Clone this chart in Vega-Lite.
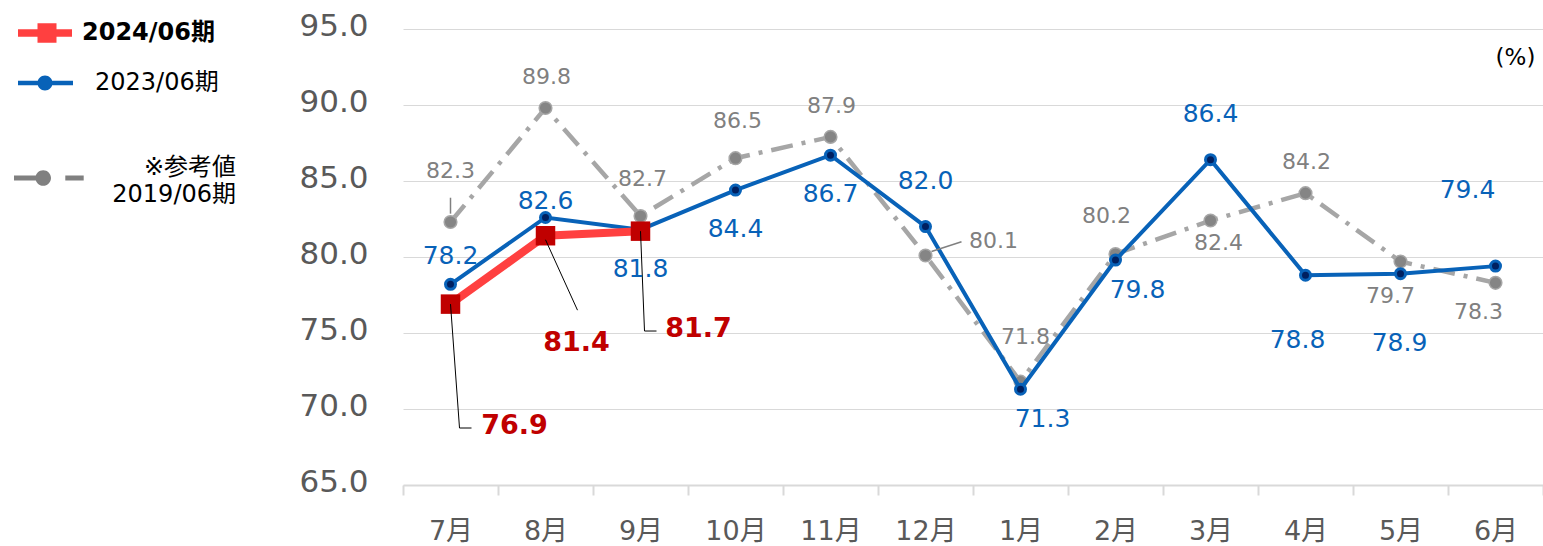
{
  "$schema": "https://vega.github.io/schema/vega-lite/v6.json",
  "width": 1140,
  "height": 456,
  "autosize": {"type": "none"},
  "padding": {"left": 403, "top": 29, "right": 0, "bottom": 61},
  "background": "white",
  "config": {"view": {"stroke": null}, "font": "DejaVu Sans, Noto Sans CJK JP"},
  "data": {"values": [
    {"month": "7月", "series": "2019/06期", "value": 82.3},
    {"month": "8月", "series": "2019/06期", "value": 89.8},
    {"month": "9月", "series": "2019/06期", "value": 82.7},
    {"month": "10月", "series": "2019/06期", "value": 86.5},
    {"month": "11月", "series": "2019/06期", "value": 87.9},
    {"month": "12月", "series": "2019/06期", "value": 80.1},
    {"month": "1月", "series": "2019/06期", "value": 71.8},
    {"month": "2月", "series": "2019/06期", "value": 80.2},
    {"month": "3月", "series": "2019/06期", "value": 82.4},
    {"month": "4月", "series": "2019/06期", "value": 84.2},
    {"month": "5月", "series": "2019/06期", "value": 79.7},
    {"month": "6月", "series": "2019/06期", "value": 78.3},
    {"month": "7月", "series": "2023/06期", "value": 78.2},
    {"month": "8月", "series": "2023/06期", "value": 82.6},
    {"month": "9月", "series": "2023/06期", "value": 81.8},
    {"month": "10月", "series": "2023/06期", "value": 84.4},
    {"month": "11月", "series": "2023/06期", "value": 86.7},
    {"month": "12月", "series": "2023/06期", "value": 82.0},
    {"month": "1月", "series": "2023/06期", "value": 71.3},
    {"month": "2月", "series": "2023/06期", "value": 79.8},
    {"month": "3月", "series": "2023/06期", "value": 86.4},
    {"month": "4月", "series": "2023/06期", "value": 78.8},
    {"month": "5月", "series": "2023/06期", "value": 78.9},
    {"month": "6月", "series": "2023/06期", "value": 79.4},
    {"month": "7月", "series": "2024/06期", "value": 76.9},
    {"month": "8月", "series": "2024/06期", "value": 81.4},
    {"month": "9月", "series": "2024/06期", "value": 81.7}
  ]},
  "encoding": {
    "x": {"field": "month", "type": "ordinal",
      "scale": {"type": "band", "domain": ["7月","8月","9月","10月","11月","12月","1月","2月","3月","4月","5月","6月"], "paddingInner": 0, "paddingOuter": 0},
      "axis": {"title": null, "labelAngle": 0, "labelFontSize": 27, "labelColor": "#595959", "labelPadding": 23, "tickBand": "extent", "tickSize": 10, "tickColor": "#d9d9d9", "tickWidth": 2, "domainColor": "#d9d9d9", "domainWidth": 2, "grid": false}},
    "y": {"field": "value", "type": "quantitative",
      "scale": {"domain": [65, 95], "nice": false, "zero": false},
      "axis": {"title": null, "values": [65, 70, 75, 80, 85, 90, 95], "format": ".1f", "labelFontSize": 31, "labelColor": "#595959", "labelPadding": 35, "ticks": false, "tickSize": 0, "domain": false, "gridColor": "#d9d9d9", "gridWidth": 1, "labelOffset": -3}}
  },
  "layer": [
    {"transform": [{"filter": {"field": "series", "equal": "2019/06期"}}],
     "mark": {"type": "line", "strokeWidth": 4.5, "strokeDash": [22, 9, 4, 9]},
     "encoding": {"stroke": {"datum": "2019/06期", "type": "nominal",
        "scale": {"domain": ["2024/06期", "2023/06期", "2019/06期"], "range": ["#ff4040", "#0862b8", "#a6a6a6"]},
        "legend": {"title": null, "orient": "none", "legendX": -370, "legendY": -8, "direction": "vertical", "padding": 0, "rowPadding": 26,
          "symbolSize": 400, "symbolStrokeWidth": 0, "labelFontSize": 24, "labelColor": "#000000", "labelOffset": 25, "labelLimit": 0,
          "labelExpr": "datum.value === '2019/06期' ? ['※参考値', '2019/06期'] : datum.label",
          "encode": {
            "symbols": {"update": {
              "shape": {"signal": "datum.value === '2024/06期' ? 'M-2.7,-0.37H2.7V0.37H-2.7ZM-0.75,-0.97H1.15V0.97H-0.75Z' : datum.value === '2023/06期' ? 'M-2.7,-0.23H2.8V0.23H-2.7ZM-0.75,0A0.75,0.75,0,1,1,0.75,0A0.75,0.75,0,1,1,-0.75,0Z' : 'M-3.1,4.25H-0.2V4.75H-3.1ZM-0.96,4.5A0.78,0.78,0,1,1,0.6,4.5A0.78,0.78,0,1,1,-0.96,4.5ZM2.03,4.25H3.87V4.75H2.03Z'"},
              "fill": {"signal": "datum.value === '2024/06期' ? '#ff4040' : datum.value === '2023/06期' ? '#0862b8' : '#808080'"},
              "stroke": {"value": "transparent"},
              "strokeWidth": {"value": 0},
              "opacity": {"value": 1}
            }},
            "labels": {"update": {
              "fontWeight": {"signal": "datum.value === '2024/06期' ? 'bold' : 'normal'"},
              "align": {"signal": "datum.value === '2019/06期' ? 'right' : 'left'"},
              "dx": {"signal": "datum.value === '2019/06期' ? 154 : datum.value === '2023/06期' ? 13 : 0"},
              "dy": {"signal": "datum.value === '2019/06期' ? 35 : 0"},
              "lineHeight": {"value": 27}
            }}
          }}}}},
    {"transform": [{"filter": {"field": "series", "equal": "2019/06期"}}],
     "mark": {"type": "point", "shape": "circle", "filled": true, "size": 160, "fill": "#858585", "stroke": "#a6a6a6", "strokeWidth": 1.5, "opacity": 1}},
    {"transform": [{"filter": {"field": "series", "equal": "2023/06期"}}],
     "mark": {"type": "line", "strokeWidth": 4},
     "encoding": {"stroke": {"datum": "2023/06期", "type": "nominal"}}},
    {"transform": [{"filter": {"field": "series", "equal": "2023/06期"}}],
     "mark": {"type": "point", "shape": "circle", "filled": true, "size": 100, "fill": "#002060", "stroke": "#0862b8", "strokeWidth": 3, "opacity": 1}},
    {"transform": [{"filter": {"field": "series", "equal": "2024/06期"}}],
     "mark": {"type": "line", "strokeWidth": 8},
     "encoding": {"stroke": {"datum": "2024/06期", "type": "nominal"}}},
    {"transform": [{"filter": {"field": "series", "equal": "2024/06期"}}],
     "mark": {"type": "point", "shape": "square", "filled": true, "size": 380, "fill": "#c00000", "strokeWidth": 0, "opacity": 1}},

    {"transform": [{"filter": {"and": [{"field": "series", "equal": "2024/06期"}, {"field": "month", "equal": "7月"}]}}],
     "mark": {"type": "rule", "color": "#000000", "strokeWidth": 1, "x2Offset": 9},
     "encoding": {"x2": {"field": "month"}, "y2": {"datum": 68.75}}},
    {"transform": [{"filter": {"and": [{"field": "series", "equal": "2024/06期"}, {"field": "month", "equal": "7月"}]}}],
     "mark": {"type": "rule", "color": "#000000", "strokeWidth": 1, "xOffset": 9, "x2Offset": 21},
     "encoding": {"x2": {"field": "month"}, "y": {"datum": 68.75}}},
    {"transform": [{"filter": {"and": [{"field": "series", "equal": "2024/06期"}, {"field": "month", "equal": "8月"}]}}],
     "mark": {"type": "rule", "color": "#000000", "strokeWidth": 1, "yOffset": 4, "x2Offset": 32},
     "encoding": {"x2": {"field": "month"}, "y2": {"datum": 76.5}}},
    {"transform": [{"filter": {"and": [{"field": "series", "equal": "2024/06期"}, {"field": "month", "equal": "9月"}]}}],
     "mark": {"type": "rule", "color": "#000000", "strokeWidth": 1, "x2Offset": 4},
     "encoding": {"x2": {"field": "month"}, "y2": {"datum": 75.13}}},
    {"transform": [{"filter": {"and": [{"field": "series", "equal": "2024/06期"}, {"field": "month", "equal": "9月"}]}}],
     "mark": {"type": "rule", "color": "#000000", "strokeWidth": 1, "xOffset": 4, "x2Offset": 16},
     "encoding": {"x2": {"field": "month"}, "y": {"datum": 75.13}}},
    {"transform": [{"filter": {"and": [{"field": "series", "equal": "2019/06期"}, {"field": "month", "equal": "7月"}]}}],
     "mark": {"type": "rule", "color": "#808080", "strokeWidth": 1.5},
     "encoding": {"y": {"datum": 83.9}, "y2": {"datum": 82.85}}},
    {"transform": [{"filter": {"and": [{"field": "series", "equal": "2019/06期"}, {"field": "month", "equal": "12月"}]}}],
     "mark": {"type": "rule", "color": "#808080", "strokeWidth": 1.5, "xOffset": 6, "yOffset": -4, "x2Offset": 36},
     "encoding": {"x2": {"field": "month"}, "y2": {"datum": 81.0}}},

    {"transform": [{"filter": {"and": [{"field": "series", "equal": "2023/06期"}, {"field": "month", "oneOf": ["7月"]}]}}],
     "mark": {"type": "text", "fontSize": 25, "color": "#0862b8", "align": "center", "baseline": "middle", "dy": -28},
     "encoding": {"text": {"field": "value", "type": "quantitative", "format": ".1f"}}},
    {"transform": [{"filter": {"and": [{"field": "series", "equal": "2023/06期"}, {"field": "month", "oneOf": ["8月"]}]}}],
     "mark": {"type": "text", "fontSize": 25, "color": "#0862b8", "align": "center", "baseline": "middle", "dy": -16},
     "encoding": {"text": {"field": "value", "type": "quantitative", "format": ".1f"}}},
    {"transform": [{"filter": {"and": [{"field": "series", "equal": "2023/06期"}, {"field": "month", "oneOf": ["9月", "10月", "11月"]}]}}],
     "mark": {"type": "text", "fontSize": 25, "color": "#0862b8", "align": "center", "baseline": "middle", "dy": 39},
     "encoding": {"text": {"field": "value", "type": "quantitative", "format": ".1f"}}},
    {"transform": [{"filter": {"and": [{"field": "series", "equal": "2023/06期"}, {"field": "month", "oneOf": ["12月", "3月"]}]}}],
     "mark": {"type": "text", "fontSize": 25, "color": "#0862b8", "align": "center", "baseline": "middle", "dy": -46},
     "encoding": {"text": {"field": "value", "type": "quantitative", "format": ".1f"}}},
    {"transform": [{"filter": {"and": [{"field": "series", "equal": "2023/06期"}, {"field": "month", "oneOf": ["1月", "2月"]}]}}],
     "mark": {"type": "text", "fontSize": 25, "color": "#0862b8", "align": "center", "baseline": "middle", "dx": 22, "dy": 30},
     "encoding": {"text": {"field": "value", "type": "quantitative", "format": ".1f"}}},
    {"transform": [{"filter": {"and": [{"field": "series", "equal": "2023/06期"}, {"field": "month", "oneOf": ["4月"]}]}}],
     "mark": {"type": "text", "fontSize": 25, "color": "#0862b8", "align": "center", "baseline": "middle", "dx": -8, "dy": 65},
     "encoding": {"text": {"field": "value", "type": "quantitative", "format": ".1f"}}},
    {"transform": [{"filter": {"and": [{"field": "series", "equal": "2023/06期"}, {"field": "month", "oneOf": ["5月"]}]}}],
     "mark": {"type": "text", "fontSize": 25, "color": "#0862b8", "align": "center", "baseline": "middle", "dx": -1, "dy": 69},
     "encoding": {"text": {"field": "value", "type": "quantitative", "format": ".1f"}}},
    {"transform": [{"filter": {"and": [{"field": "series", "equal": "2023/06期"}, {"field": "month", "oneOf": ["6月"]}]}}],
     "mark": {"type": "text", "fontSize": 25, "color": "#0862b8", "align": "center", "baseline": "middle", "dx": -28, "dy": -76},
     "encoding": {"text": {"field": "value", "type": "quantitative", "format": ".1f"}}},

    {"transform": [{"filter": {"and": [{"field": "series", "equal": "2019/06期"}, {"field": "month", "oneOf": ["7月"]}]}}],
     "mark": {"type": "text", "fontSize": 22, "color": "#808080", "align": "center", "baseline": "middle", "dy": -51},
     "encoding": {"text": {"field": "value", "type": "quantitative", "format": ".1f"}}},
    {"transform": [{"filter": {"and": [{"field": "series", "equal": "2019/06期"}, {"field": "month", "oneOf": ["8月", "11月", "4月"]}]}}],
     "mark": {"type": "text", "fontSize": 22, "color": "#808080", "align": "center", "baseline": "middle", "dx": 1, "dy": -31},
     "encoding": {"text": {"field": "value", "type": "quantitative", "format": ".1f"}}},
    {"transform": [{"filter": {"and": [{"field": "series", "equal": "2019/06期"}, {"field": "month", "oneOf": ["9月", "10月"]}]}}],
     "mark": {"type": "text", "fontSize": 22, "color": "#808080", "align": "center", "baseline": "middle", "dx": 2, "dy": -37},
     "encoding": {"text": {"field": "value", "type": "quantitative", "format": ".1f"}}},
    {"transform": [{"filter": {"and": [{"field": "series", "equal": "2019/06期"}, {"field": "month", "oneOf": ["2月"]}]}}],
     "mark": {"type": "text", "fontSize": 22, "color": "#808080", "align": "center", "baseline": "middle", "dx": -9, "dy": -38},
     "encoding": {"text": {"field": "value", "type": "quantitative", "format": ".1f"}}},
    {"transform": [{"filter": {"and": [{"field": "series", "equal": "2019/06期"}, {"field": "month", "oneOf": ["12月"]}]}}],
     "mark": {"type": "text", "fontSize": 22, "color": "#808080", "align": "center", "baseline": "middle", "dx": 68, "dy": -14},
     "encoding": {"text": {"field": "value", "type": "quantitative", "format": ".1f"}}},
    {"transform": [{"filter": {"and": [{"field": "series", "equal": "2019/06期"}, {"field": "month", "oneOf": ["1月"]}]}}],
     "mark": {"type": "text", "fontSize": 22, "color": "#808080", "align": "center", "baseline": "middle", "dx": 5, "dy": -45},
     "encoding": {"text": {"field": "value", "type": "quantitative", "format": ".1f"}}},
    {"transform": [{"filter": {"and": [{"field": "series", "equal": "2019/06期"}, {"field": "month", "oneOf": ["3月"]}]}}],
     "mark": {"type": "text", "fontSize": 22, "color": "#808080", "align": "center", "baseline": "middle", "dx": 8, "dy": 22},
     "encoding": {"text": {"field": "value", "type": "quantitative", "format": ".1f"}}},
    {"transform": [{"filter": {"and": [{"field": "series", "equal": "2019/06期"}, {"field": "month", "oneOf": ["5月"]}]}}],
     "mark": {"type": "text", "fontSize": 22, "color": "#808080", "align": "center", "baseline": "middle", "dx": -10, "dy": 34},
     "encoding": {"text": {"field": "value", "type": "quantitative", "format": ".1f"}}},
    {"transform": [{"filter": {"and": [{"field": "series", "equal": "2019/06期"}, {"field": "month", "oneOf": ["6月"]}]}}],
     "mark": {"type": "text", "fontSize": 22, "color": "#808080", "align": "center", "baseline": "middle", "dx": -17, "dy": 29},
     "encoding": {"text": {"field": "value", "type": "quantitative", "format": ".1f"}}},

    {"transform": [{"filter": {"and": [{"field": "series", "equal": "2024/06期"}, {"field": "month", "equal": "7月"}]}}],
     "mark": {"type": "text", "fontSize": 27, "fontWeight": "bold", "color": "#c00000", "align": "center", "baseline": "middle", "dx": 64, "dy": 122},
     "encoding": {"text": {"field": "value", "type": "quantitative", "format": ".1f"}}},
    {"transform": [{"filter": {"and": [{"field": "series", "equal": "2024/06期"}, {"field": "month", "equal": "8月"}]}}],
     "mark": {"type": "text", "fontSize": 27, "fontWeight": "bold", "color": "#c00000", "align": "center", "baseline": "middle", "dx": 31, "dy": 107},
     "encoding": {"text": {"field": "value", "type": "quantitative", "format": ".1f"}}},
    {"transform": [{"filter": {"and": [{"field": "series", "equal": "2024/06期"}, {"field": "month", "equal": "9月"}]}}],
     "mark": {"type": "text", "fontSize": 27, "fontWeight": "bold", "color": "#c00000", "align": "center", "baseline": "middle", "dx": 58, "dy": 98},
     "encoding": {"text": {"field": "value", "type": "quantitative", "format": ".1f"}}},

    {"transform": [{"filter": {"and": [{"field": "series", "equal": "2023/06期"}, {"field": "month", "equal": "6月"}]}}],
     "mark": {"type": "text", "fontSize": 23, "color": "#000000", "align": "center", "baseline": "middle", "dx": 20},
     "encoding": {"y": {"datum": 93.1}, "text": {"value": "(%)"}}}
  ]
}
